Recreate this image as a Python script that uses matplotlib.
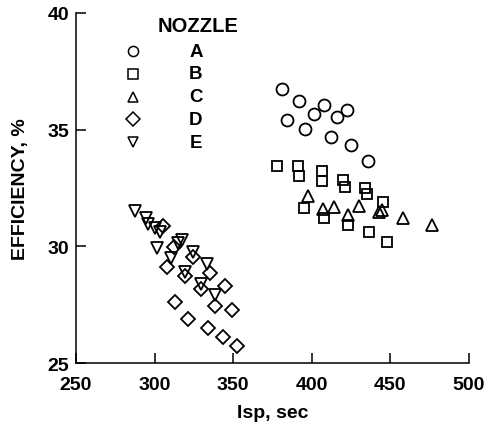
import matplotlib.pyplot as plt

plt.rcParams['font.family'] = ['Liberation Sans', 'DejaVu Sans']
plt.rcParams['font.weight'] = 'bold'

# Nozzle A (circles)
isp_a = [380.9, 392.0, 407.9, 422.2, 401.2, 384.0, 415.8, 395.9, 412.0, 424.7, 435.9]
eff_a = [36.74, 36.24, 36.06, 35.86, 35.66, 35.43, 35.53, 35.02, 34.70, 34.33, 33.65]

# Nozzle B (squares)
isp_b = [378.1, 391.4, 392.0, 406.3, 406.3, 419.7, 421.1, 433.8, 434.9, 445.5,
         395.0, 407.8, 423.2, 436.6, 447.7]
eff_b = [33.43, 33.46, 33.03, 33.24, 32.81, 32.86, 32.53, 32.49, 32.24, 31.89,
         31.63, 31.22, 30.92, 30.63, 30.17]

# Nozzle C (triangles)
isp_c = [397.4, 406.9, 414.1, 423.2, 430.0, 442.9, 444.5, 458.2, 476.3]
eff_c = [32.17, 31.60, 31.70, 31.34, 31.72, 31.46, 31.57, 31.20, 30.92]

# Nozzle D (diamonds)
isp_d = [305.3, 312.3, 307.9, 324.4, 319.3, 335.2, 329.5, 344.8, 313.0, 338.4,
         349.2, 321.2, 334.0, 343.5, 352.4]
eff_d = [30.87, 29.97, 29.11, 29.54, 28.73, 28.86, 28.17, 28.30, 27.61, 27.44,
         27.27, 26.89, 26.50, 26.11, 25.73]

# Nozzle E (inverted triangles)
isp_e = [287.5, 294.5, 295.8, 303.4, 301.5, 310.4, 314.9, 324.4, 319.3, 333.3,
         329.5, 338.4, 300.3, 317.4]
eff_e = [31.52, 31.22, 30.96, 30.61, 29.93, 29.50, 30.14, 29.76, 28.90, 29.24,
         28.39, 27.91, 30.79, 30.27]

labels = ['A', 'B', 'C', 'D', 'E']
markers = ['o', 's', '^', 'D', 'v']
sizes = [8.6, 7.9, 8.6, 7.2, 8.6]


def main():
    fig = plt.figure(figsize=(4.87, 4.27), dpi=100)
    ax = fig.add_axes([0.156, 0.1475, 0.807, 0.82])

    series = [(isp_a, eff_a), (isp_b, eff_b), (isp_c, eff_c),
              (isp_d, eff_d), (isp_e, eff_e)]
    for (x, y), m, ms in zip(series, markers, sizes):
        ax.plot(x, y, linestyle='none', marker=m, markersize=ms,
                markerfacecolor='none', markeredgecolor='black',
                markeredgewidth=1.3)

    ax.set_xlim(250, 500)
    ax.set_ylim(25, 40)
    ax.set_xticks([250, 300, 350, 400, 450, 500])
    ax.set_yticks([25, 30, 35, 40])

    for side in ['top', 'right']:
        ax.spines[side].set_visible(False)
    for side in ['left', 'bottom']:
        ax.spines[side].set_linewidth(1.1)

    ax.tick_params(direction='in', length=7, width=1.1, labelsize=14)
    ax.tick_params(axis='x', pad=9)
    ax.tick_params(axis='y', pad=5)
    ax.set_xlabel('Isp, sec', fontsize=14, fontweight='bold', labelpad=8)
    ax.set_ylabel('EFFICIENCY, %', fontsize=14, fontweight='bold', labelpad=13)

    # hand-made legend, like the original
    ax.text(0.31, 0.963, 'NOZZLE', transform=ax.transAxes, ha='center',
            va='center', fontsize=14.5, fontweight='bold')
    for i, (lab, m) in enumerate(zip(labels, markers)):
        yy = 0.891 - i * 0.065
        ax.plot([0.145], [yy], transform=ax.transAxes, linestyle='none',
                marker=m, markersize=7.3, markerfacecolor='none',
                markeredgecolor='black', markeredgewidth=1.1, clip_on=False)
        ax.text(0.305, yy, lab, transform=ax.transAxes, ha='center',
                va='center', fontsize=13.5, fontweight='bold')

    fig.savefig('out.png', dpi=100)


if __name__ == '__main__':
    main()
